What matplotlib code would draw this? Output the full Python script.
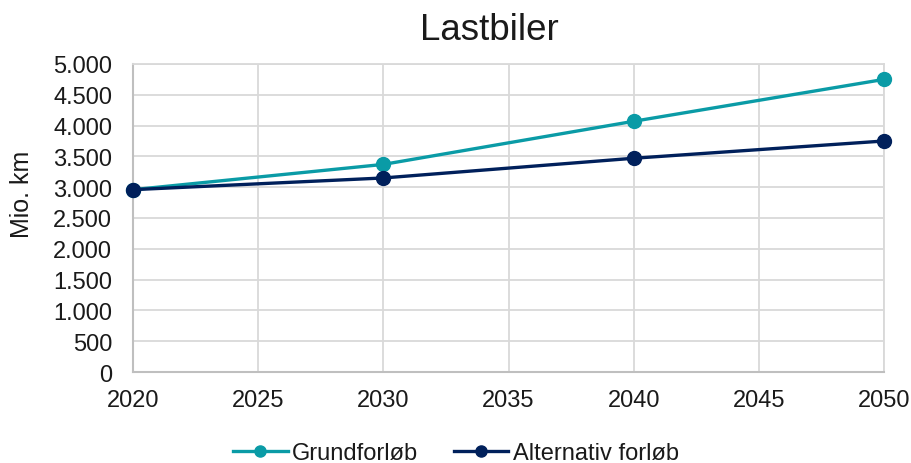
import matplotlib
matplotlib.use("Agg")
import matplotlib.pyplot as plt
from matplotlib.ticker import FuncFormatter, MultipleLocator

plt.rcParams['font.family'] = ['Liberation Sans', 'DejaVu Sans']

years = [2020, 2030, 2040, 2050]
grundforlob = [2960, 3370, 4070, 4750]
alternativ = [2960, 3150, 3470, 3750]
series_names = ["Grundforløb", "Alternativ forløb"]

teal = "#0a9ba6"
navy = "#00205b"
text_col = "#1a1a1a"

fig = plt.figure(figsize=(9.12, 4.64), dpi=100)
W, H = 912, 464
ax = fig.add_axes([133 / W, 1 - 373 / H, (884 - 133) / W, (373 - 65) / H])

ax.plot(years, grundforlob, color=teal, lw=2.4, marker='o', ms=10,
        label=series_names[0], zorder=3, clip_on=False)
ax.plot(years, alternativ, color=navy, lw=2.4, marker='o', ms=10,
        label=series_names[1], zorder=4, clip_on=False)

ax.set_xlim(2020, 2050)
ax.set_ylim(0, 5000)
ax.xaxis.set_major_locator(MultipleLocator(5))
ax.yaxis.set_major_locator(MultipleLocator(500))
ax.yaxis.set_major_formatter(FuncFormatter(lambda v, p: f"{int(v):,}".replace(",", ".")))

ax.grid(True, color="#d9d9d9", lw=1.3, zorder=0)
ax.set_axisbelow(True)
for s in ["top", "right"]:
    ax.spines[s].set_color("#d9d9d9")
    ax.spines[s].set_linewidth(1.3)
for s in ["left", "bottom"]:
    ax.spines[s].set_color("#bfbfbf")
    ax.spines[s].set_linewidth(1.5)
ax.tick_params(axis='both', length=0, labelsize=17, colors=text_col)
ax.tick_params(axis='y', pad=15)
ax.tick_params(axis='x', pad=12)

fig.text(22 / W, 1 - 194 / H, "Mio. km", rotation=90, ha='center', va='center',
         fontsize=18, color=text_col)
fig.text(489 / W, 1 - 31 / H, "Lastbiler", ha='center', va='center',
         fontsize=26.5, color=text_col)

fig.legend(loc='center', bbox_to_anchor=(456 / W, 1 - 454 / H), ncol=2, frameon=False,
           fontsize=17, handlelength=2.3, handletextpad=0.2, columnspacing=1.5,
           markerscale=0.8, borderpad=0, labelcolor=text_col)

fig.savefig("out.png", dpi=100)
